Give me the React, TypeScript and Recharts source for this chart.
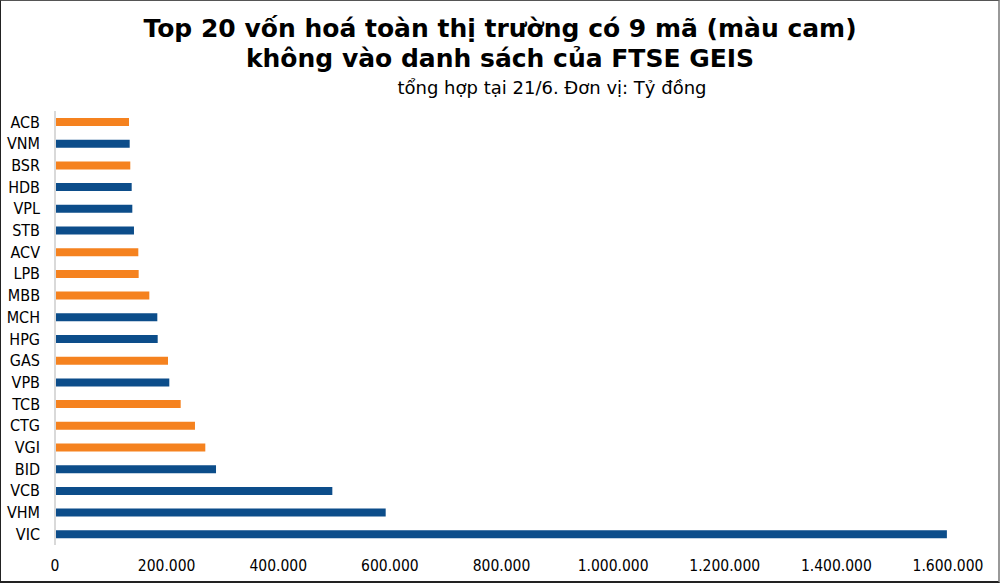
import { BarChart, Bar, XAxis, YAxis, Cell } from "recharts";

// Tickers listed top to bottom as in the picture
const tickers = [
  "ACB", "VNM", "BSR", "HDB", "VPL", "STB", "ACV", "LPB", "MBB", "MCH",
  "HPG", "GAS", "VPB", "TCB", "CTG", "VGI", "BID", "VCB", "VHM", "VIC",
];

// Market cap, tỷ đồng
const caps = [
  132600, 133800, 134900, 137400, 138500, 141500, 149300, 149900, 169000, 183300,
  184000, 202500, 204800, 225200, 250800, 269300, 288500, 496900, 592500, 1598000,
];

// Not in the FTSE GEIS list (orange)
const excluded = ["ACB", "BSR", "ACV", "LPB", "MBB", "GAS", "TCB", "CTG", "VGI"];

const xTicks = [0, 200000, 400000, 600000, 800000, 1000000, 1200000, 1400000, 1600000];

const ORANGE = "#f5821f";
const BLUE = "#0c4d8a";
const FONT = "'DejaVu Sans Condensed', 'DejaVu Sans', sans-serif";
const WIDE = "'DejaVu Sans', sans-serif";

const fmt = (v: number) => String(v).replace(/\B(?=(\d{3})+(?!\d))/g, ".");

const data = tickers.map((name, i) => ({ name, value: caps[i] }));

export default function App() {
  return (
    <div
      style={{
        position: "absolute",
        left: 0,
        top: 0,
        width: 1000,
        height: 583,
        boxSizing: "border-box",
        background: "#fff",
        borderTop: "1px solid #555",
        borderLeft: "1px solid #222",
        borderBottom: "2px solid #222",
        borderRight: "2px solid #999",
        fontFamily: FONT,
      }}
    >
      <svg width={1000} height={100} style={{ position: "absolute", left: -1, top: -1 }}>
        <text x={500} y={37} textAnchor="middle" fontFamily={WIDE} fontWeight="bold" fontSize={25} fill="#000">
          Top 20 vốn hoá toàn thị trường có 9 mã (màu cam)
        </text>
        <text x={500} y={67} textAnchor="middle" fontFamily={WIDE} fontWeight="bold" fontSize={25} fill="#000">
          không vào danh sách của FTSE GEIS
        </text>
        <text x={552} y={94} textAnchor="middle" fontFamily={WIDE} fontSize={18} fill="#000">
          tổng hợp tại 21/6. Đơn vị: Tỷ đồng
        </text>
      </svg>
      <div style={{ position: "absolute", left: -1, top: -1 }}>
        <BarChart
          width={1000}
          height={583}
          data={data}
          layout="vertical"
          margin={{ top: 111, right: 52, bottom: 8, left: 0 }}
        >
          <XAxis
            type="number"
            domain={[0, 1600000]}
            ticks={xTicks}
            tickFormatter={fmt}
            axisLine={false}
            tickLine={false}
            tickMargin={9}
            height={30}
            tick={{ fontSize: 15.5, fill: "#000", fontFamily: FONT }}
            interval={0}
          />
          <YAxis
            type="category"
            dataKey="name"
            width={55}
            axisLine={{ stroke: "#d9d9d9", strokeWidth: 2 }}
            tickLine={false}
            tickMargin={9}
            tick={{ fontSize: 16, fill: "#000", fontFamily: FONT }}
            interval={0}
          />
          <Bar dataKey="value" barSize={8} isAnimationActive={false}>
            {data.map((d) => (
              <Cell key={d.name} fill={excluded.includes(d.name) ? ORANGE : BLUE} />
            ))}
          </Bar>
        </BarChart>
      </div>
    </div>
  );
}
